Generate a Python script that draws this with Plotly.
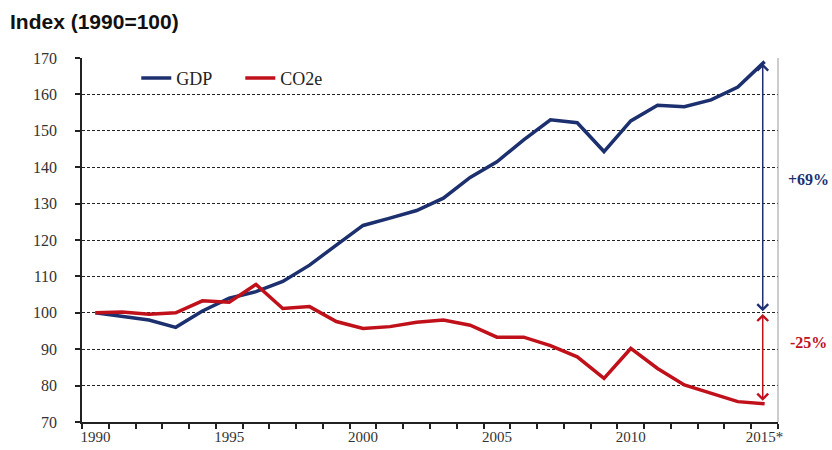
import plotly.graph_objects as go

# Index values, 1990 = 100
years = [str(y) for y in range(1990, 2015)] + ["2015*"]
gdp = [100, 99, 98, 96, 100.5, 104, 105.8, 108.6, 113.1, 118.6, 124, 126, 128.1,
       131.5, 137.2, 141.5, 147.5, 153, 152.2, 144.3, 152.7, 157, 156.6, 158.5,
       162, 169]
co2e = [100, 100.2, 99.6, 100, 103.3, 102.9, 107.8, 101.2, 101.7, 97.6, 95.7,
        96.2, 97.4, 98, 96.6, 93.3, 93.3, 91, 87.9, 82, 90.2, 84.7, 80.2, 77.9,
        75.6, 75]
tick_labels = [y if (i % 5 == 0) else "" for i, y in enumerate(years)]

gdp_change = "+69%"
co2_change = "-25%"

NAVY = "#1c2f6e"
RED = "#c0111b"
SERIF = "Liberation Serif, Times New Roman, serif"

fig = go.Figure()
fig.add_trace(go.Scatter(x=years, y=gdp, mode="lines", name="GDP",
                         line=dict(color=NAVY, width=3.5)))
fig.add_trace(go.Scatter(x=years, y=co2e, mode="lines", name="CO2e",
                         line=dict(color=RED, width=3.5)))

n = len(years)
arrow_x = n - 1 - 0.07

# Double-headed arrows marking the change since 1990
fig.add_annotation(x=arrow_x, y=gdp[-1] - 0.5, ax=arrow_x, ay=gdp[0],
                   xref="x", yref="y", axref="x", ayref="y", text="",
                   showarrow=True, arrowside="end+start", arrowhead=4,
                   startarrowhead=4, arrowsize=1.4, startarrowsize=1.4,
                   arrowwidth=1.5, arrowcolor=NAVY)
fig.add_annotation(x=arrow_x, y=co2e[0] - 0.3, ax=arrow_x, ay=co2e[-1] + 0.4,
                   xref="x", yref="y", axref="x", ayref="y", text="",
                   showarrow=True, arrowside="end+start", arrowhead=4,
                   startarrowhead=4, arrowsize=1.4, startarrowsize=1.4,
                   arrowwidth=1.5, arrowcolor=RED)

fig.add_annotation(x=1.0, y=(gdp[-1] + gdp[0]) / 2 + 2.0, xref="paper", yref="y",
                   xanchor="left", xshift=8, text="<b>" + gdp_change + "</b>",
                   showarrow=False, font=dict(family=SERIF, size=16, color=NAVY))
fig.add_annotation(x=1.0, y=(co2e[0] + co2e[-1]) / 2 + 4.3, xref="paper", yref="y",
                   xanchor="left", xshift=10, text="<b>" + co2_change + "</b>",
                   showarrow=False, font=dict(family=SERIF, size=16, color=RED))

# Right-hand frame line
fig.add_shape(type="line", xref="paper", yref="paper", x0=1, x1=1, y0=0, y1=1,
              line=dict(color="#9a9a9a", width=1))

fig.update_layout(
    width=832, height=450,
    margin=dict(l=82, r=54, t=58, b=28),
    paper_bgcolor="white", plot_bgcolor="white",
    title=dict(text="<b>Index (1990=100)</b>", xref="container", x=10 / 832,
               xanchor="left", yref="container", y=1 - 22 / 450, yanchor="middle",
               font=dict(family="Liberation Sans, Arial, sans-serif", size=21,
                         color="#111")),
    showlegend=True,
    legend=dict(orientation="h", x=0.078, y=0.995, xanchor="left", yanchor="top",
                bgcolor="rgba(0,0,0,0)", font=dict(family=SERIF, size=18, color="#222"),
                itemwidth=30, tracegroupgap=0, entrywidth=59),
)

fig.update_xaxes(type="category", categoryorder="array", categoryarray=years,
                 tickmode="array", tickvals=years, ticktext=tick_labels,
                 tickson="boundaries", ticks="outside", ticklen=5, tickwidth=1.5,
                 tickcolor="#222", showline=True, linecolor="#222", linewidth=1.5,
                 showgrid=False, zeroline=False, tickangle=0, automargin=False,
                 ticklabelstandoff=0,
                 tickfont=dict(family=SERIF, size=15, color="#333"),
                 range=[-0.5, n - 0.5])
fig.update_yaxes(range=[70, 170], tickmode="linear", tick0=70, dtick=10,
                 ticks="outside", ticklen=5, tickwidth=1.5, tickcolor="#222",
                 showline=True, linecolor="#222", linewidth=1.5,
                 showgrid=True, gridcolor="#222", gridwidth=1, griddash="3px,2px",
                 zeroline=False, ticklabelstandoff=15, automargin=False,
                 tickfont=dict(family=SERIF, size=16, color="#333"))

fig.write_html("out.html")
